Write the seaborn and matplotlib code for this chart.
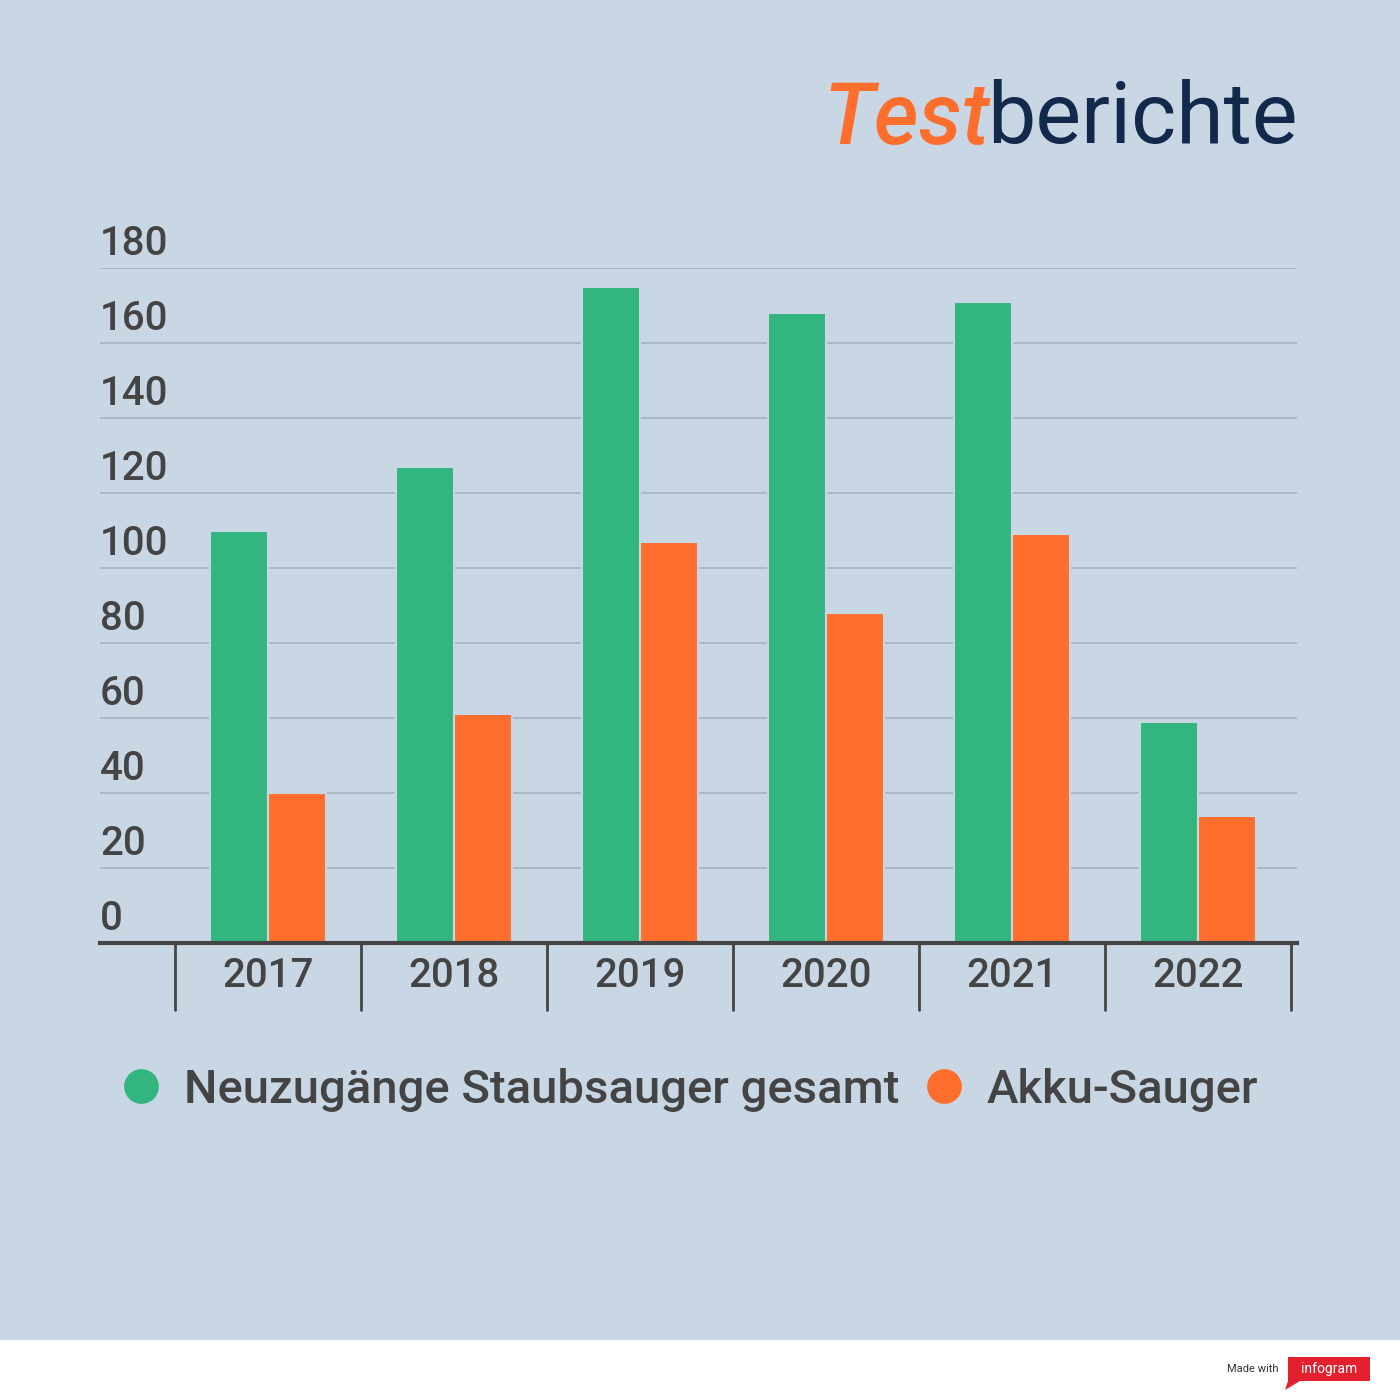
import matplotlib
matplotlib.use("Agg")
import matplotlib.pyplot as plt
import seaborn as sns
import pandas as pd
from matplotlib.lines import Line2D
from matplotlib.patches import Rectangle, Polygon

years = ["2017", "2018", "2019", "2020", "2021", "2022"]
gesamt = [110, 127, 175, 168, 171, 59]
akku = [40, 61, 107, 88, 109, 34]
series = ["Neuzugänge Staubsauger gesamt", "Akku-Sauger"]
yticks = [0, 20, 40, 60, 80, 100, 120, 140, 160, 180]

BG = "#c9d7e5"
GREEN = "#33b57f"
ORANGE = "#ff6e2c"
NAVY = "#13294b"
TXT = "#444444"

df = pd.DataFrame({
    "Jahr": years * 2,
    "Wert": gesamt + akku,
    "Serie": [series[0]] * len(years) + [series[1]] * len(years),
})

sns.set_theme(style="white")
plt.rcParams["font.family"] = ["Roboto", "DejaVu Sans"]

fig = plt.figure(figsize=(14, 14), dpi=100, facecolor=BG)
ax = fig.add_axes([100/1400, 1-943/1400, 1197/1400, 675/1400])
ax.set_facecolor(BG)

sns.barplot(data=df, x="Jahr", y="Wert", hue="Serie", order=years,
            palette=[GREEN, ORANGE], width=0.62, ax=ax,
            edgecolor=BG, linewidth=1.5, legend=False, saturation=1)

ax.set_xlim(-0.5 - 75/186, 5.5 + 6/186)
ax.set_ylim(0, 180)
ax.set_yticks(yticks)
ax.set_yticklabels([])
ax.tick_params(axis="both", length=0)
ax.set_xticklabels([])
ax.set_xlabel("")
ax.set_ylabel("")
for s in ["top", "right", "left"]:
    ax.spines[s].set_visible(False)
ax.spines["bottom"].set_color(TXT)
ax.spines["bottom"].set_linewidth(3)
ax.grid(axis="y", color="#a8b5c3", linewidth=1.3)
ax.set_axisbelow(True)

xl = ax.get_xlim()[0]
for v in yticks:
    ax.text(xl, v + 1.3, str(v), ha="left", va="bottom", fontsize=29,
            color=TXT, weight="medium")

trans = ax.get_xaxis_transform()
for i in range(len(years) + 1):
    ax.plot([i - 0.5, i - 0.5], [0, -67/675], transform=trans, color=TXT,
            lw=2, clip_on=False)
for i, y in enumerate(years):
    ax.text(i, -33/675, y, transform=trans, ha="center", va="center",
            fontsize=29, color=TXT, weight="medium")

handles = [Line2D([], [], marker="o", ls="", markersize=24, color=c) for c in (GREEN, ORANGE)]
leg = fig.legend(handles, series, loc="center", bbox_to_anchor=(689/1400, 1-1090/1400),
                 ncol=2, frameon=False, handlelength=0.9, handletextpad=0.45,
                 columnspacing=0.5, prop={"weight": "medium", "size": 34})
for t in leg.get_texts():
    t.set_color(TXT)

# logo
fig.canvas.draw()
r = fig.canvas.get_renderer()
tb = fig.text(1298/1400, 1-120/1400, "berichte", ha="right", va="center",
              fontsize=62, color=NAVY)
bb = tb.get_window_extent(r)
fig.text(bb.x0/1400 + 0.002, 1-120/1400, "Test", ha="right", va="center",
         fontsize=62, color=ORANGE, style="italic", weight="medium")

# footer
fig.patches.append(Rectangle((0, 0), 1, 60/1400, transform=fig.transFigure,
                             facecolor="white", edgecolor="none"))
fig.text(1253/1400, 1-1369/1400, "Made with", ha="center", va="center",
         fontsize=8, color="#333333")
fig.patches.append(Polygon([(1288/1400, 1-1357/1400), (1370/1400, 1-1357/1400),
                            (1370/1400, 1-1381/1400), (1300/1400, 1-1381/1400),
                            (1285/1400, 1-1390/1400), (1288/1400, 1-1381/1400)],
                           closed=True, transform=fig.transFigure,
                           facecolor="#e5202e", edgecolor="none"))
fig.text(1329/1400, 1-1369/1400, "infogram", ha="center", va="center",
         fontsize=10, color="white")

fig.savefig("out.png", dpi=100, facecolor=BG)
